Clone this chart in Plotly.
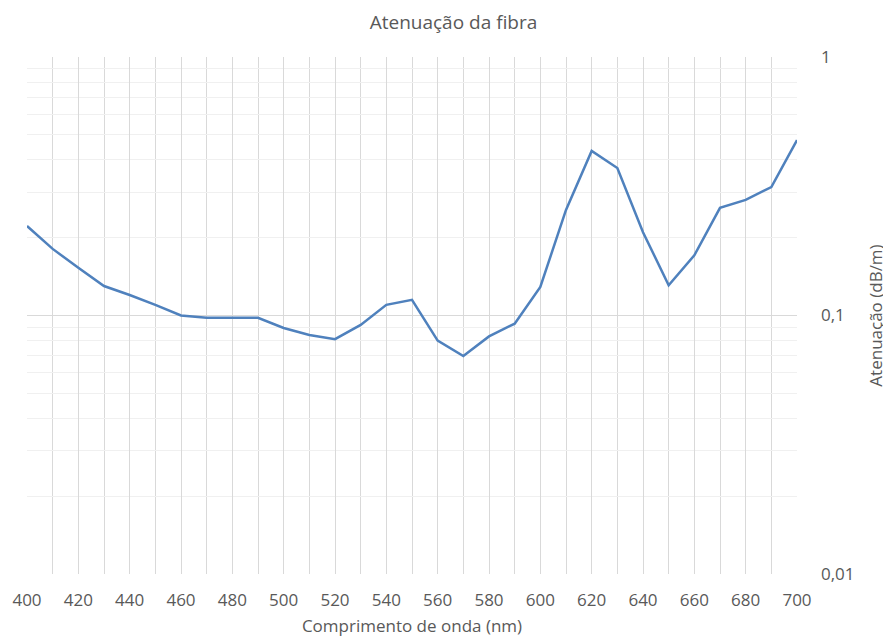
import plotly.graph_objects as go

wavelength = [400, 410, 420, 430, 440, 450, 460, 470, 480, 490, 500, 510, 520, 530, 540, 550,
              560, 570, 580, 590, 600, 610, 620, 630, 640, 650, 660, 670, 680, 690, 700]
attenuation = [0.222, 0.181, 0.153, 0.130, 0.120, 0.110, 0.100, 0.098, 0.098, 0.098, 0.0895,
               0.084, 0.081, 0.092, 0.110, 0.115, 0.080, 0.0697, 0.083, 0.093, 0.129, 0.256,
               0.433, 0.372, 0.210, 0.131, 0.171, 0.261, 0.280, 0.314, 0.477]

x_ticks = list(range(400, 701, 20))
y_ticks = [0.01, 0.1, 1]
y_tick_text = ["0,01", "0,1", "1"]

font_family = "Open Sans, Liberation Sans, sans-serif"
grey_text = "#595959"

fig = go.Figure()
fig.add_trace(go.Scatter(
    x=wavelength, y=attenuation, mode="lines",
    line=dict(color="#4f81bd", width=2.5),
    showlegend=False,
))

fig.update_layout(
    width=891, height=639,
    margin=dict(l=19, r=102, t=49, b=73, autoexpand=False),
    paper_bgcolor="white", plot_bgcolor="white",
    title=dict(text="Atenuação da fibra", x=0.5, xanchor="center",
               y=1 - 14 / 639, yanchor="middle", automargin=False,
               font=dict(family=font_family, size=19, color=grey_text)),
    font=dict(family=font_family, color=grey_text),
)

fig.update_xaxes(
    range=[400, 700], tickvals=x_ticks, ticks="",
    tickfont=dict(size=17, color=grey_text),
    ticklabelstandoff=14,
    showgrid=True, gridcolor="#d9d9d9", gridwidth=1,
    minor=dict(dtick=10, tick0=400, showgrid=True, gridcolor="#d9d9d9", gridwidth=1),
    showline=False, zeroline=False, automargin=False,
    title=dict(text="Comprimento de onda (nm)", font=dict(size=17, color=grey_text), standoff=10),
)

fig.update_yaxes(
    type="log", range=[-2, 0], side="right",
    tickvals=y_ticks, ticktext=y_tick_text, ticks="",
    tickfont=dict(size=17, color=grey_text),
    ticklabelstandoff=23,
    showgrid=True, gridcolor="#d9d9d9", gridwidth=1,
    minor=dict(dtick="D1", showgrid=True, gridcolor="#f0f0f0", gridwidth=1),
    showline=False, zeroline=False, automargin=False,
    title=dict(text="Atenuação (dB/m)", font=dict(size=17, color=grey_text), standoff=16),
)

fig.write_html("out.html")
